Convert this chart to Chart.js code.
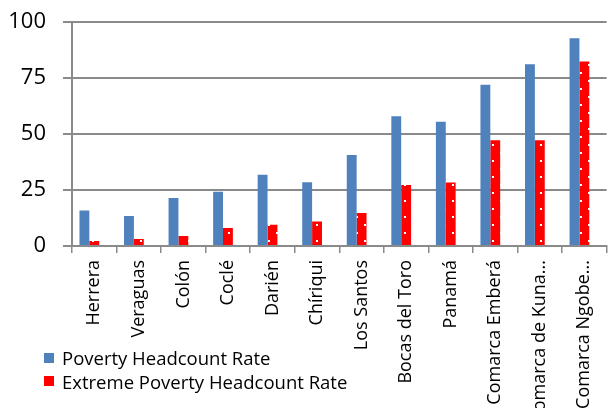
<!DOCTYPE html>
<html>
<head>
<meta charset="utf-8">
<script src="https://cdn.jsdelivr.net/npm/chart.js@4/dist/chart.umd.min.js"></script>
<style>
  html, body { margin: 0; padding: 0; background: #ffffff; }
  #wrap { position: relative; width: 613px; height: 408px; overflow: hidden; }
  #c { display: block; }
  #legend { position: absolute; left: 44px; top: 346px; font-family: 'Open Sans', sans-serif; font-size: 18.5px; color: #000; }
  #legend .row { display: flex; align-items: center; height: 23.6px; white-space: nowrap; }
  #legend .sw { width: 10px; height: 10px; margin-right: 8px; }
</style>
</head>
<body>
<div id="wrap">
  <canvas id="c" width="613" height="408"></canvas>
  <div id="legend"></div>
</div>
<script>
// Regions of Panama, ordered by poverty headcount rate
const regions = ['Herrera', 'Veraguas', 'Colón', 'Coclé', 'Darién', 'Chíriqui', 'Los Santos',
  'Bocas del Toro', 'Panamá', 'Comarca Emberá', 'Comarca de Kuna...', 'Comarca Ngobe...'];
const povertyRate = [15.8, 13.4, 21.4, 24.2, 31.8, 28.5, 40.6, 57.9, 55.5, 72.0, 81.1, 92.7];
const extremePovertyRate = [2.2, 3.1, 4.5, 8.0, 9.5, 10.9, 14.7, 27.2, 28.4, 47.2, 47.2, 82.4];
const yTicks = [0, 25, 50, 75, 100];
const seriesNames = ['Poverty Headcount Rate', 'Extreme Poverty Headcount Rate'];

const canvas = document.getElementById('c');
const ctx = canvas.getContext('2d');

// red fill with a sparse grid of white dots
function dotPattern() {
  const t = document.createElement('canvas');
  t.width = 16; t.height = 16;
  const g = t.getContext('2d');
  g.fillStyle = '#ff0000';
  g.fillRect(0, 0, 16, 16);
  g.fillStyle = '#ffffff';
  g.fillRect(12, 0, 2, 2);
  g.fillRect(4, 8, 2, 2);
  return ctx.createPattern(t, 'repeat');
}

const blue = '#4f81bd';
const redDots = dotPattern();
const axisGray = '#8a8a8a';

const chart = new Chart(ctx, {
  type: 'bar',
  data: {
    labels: regions,
    datasets: [
      { label: seriesNames[0], data: povertyRate, backgroundColor: blue },
      { label: seriesNames[1], data: extremePovertyRate, backgroundColor: redDots },
      // empty third slot in each group
      { label: '', data: regions.map(() => null), backgroundColor: 'rgba(0,0,0,0)' }
    ]
  },
  options: {
    responsive: false,
    animation: false,
    devicePixelRatio: 1,
    datasets: { bar: { categoryPercentage: 0.665, barPercentage: 1.0 } },
    layout: { padding: { top: 22, right: 1, left: 0, bottom: 0 } },
    plugins: { legend: { display: false }, tooltip: { enabled: false } },
    scales: {
      x: {
        offset: true,
        grid: { offset: true, drawOnChartArea: false, drawTicks: true, tickLength: 7, color: axisGray, lineWidth: 1.5 },
        border: { display: true, color: axisGray, width: 2 },
        ticks: {
          autoSkip: false, minRotation: 90, maxRotation: 90, padding: 7,
          color: '#000', font: { family: 'Open Sans', size: 18 }
        },
        afterFit: (s) => { s.height = 162; }
      },
      y: {
        min: 0, max: 100,
        afterBuildTicks: (s) => { s.ticks = yTicks.map(v => ({ value: v })); },
        grid: { color: axisGray, lineWidth: 2, tickLength: 9, drawTicks: true },
        border: { display: true, color: axisGray, width: 2 },
        ticks: { padding: 17, color: '#000', font: { family: 'Open Sans', size: 22 } },
        afterFit: (s) => { s.width = 72; s.paddingTop = 0; s.paddingBottom = 0; }
      }
    }
  }
});

// legend built from the two data series
const legend = document.getElementById('legend');
[0, 1].forEach(i => {
  const ds = chart.data.datasets[i];
  const row = document.createElement('div');
  row.className = 'row';
  const sw = document.createElement('span');
  sw.className = 'sw';
  sw.style.background = i === 0 ? blue : '#ff0000';
  const tx = document.createElement('span');
  tx.textContent = ds.label;
  row.appendChild(sw);
  row.appendChild(tx);
  legend.appendChild(row);
});
</script>
</body>
</html>
